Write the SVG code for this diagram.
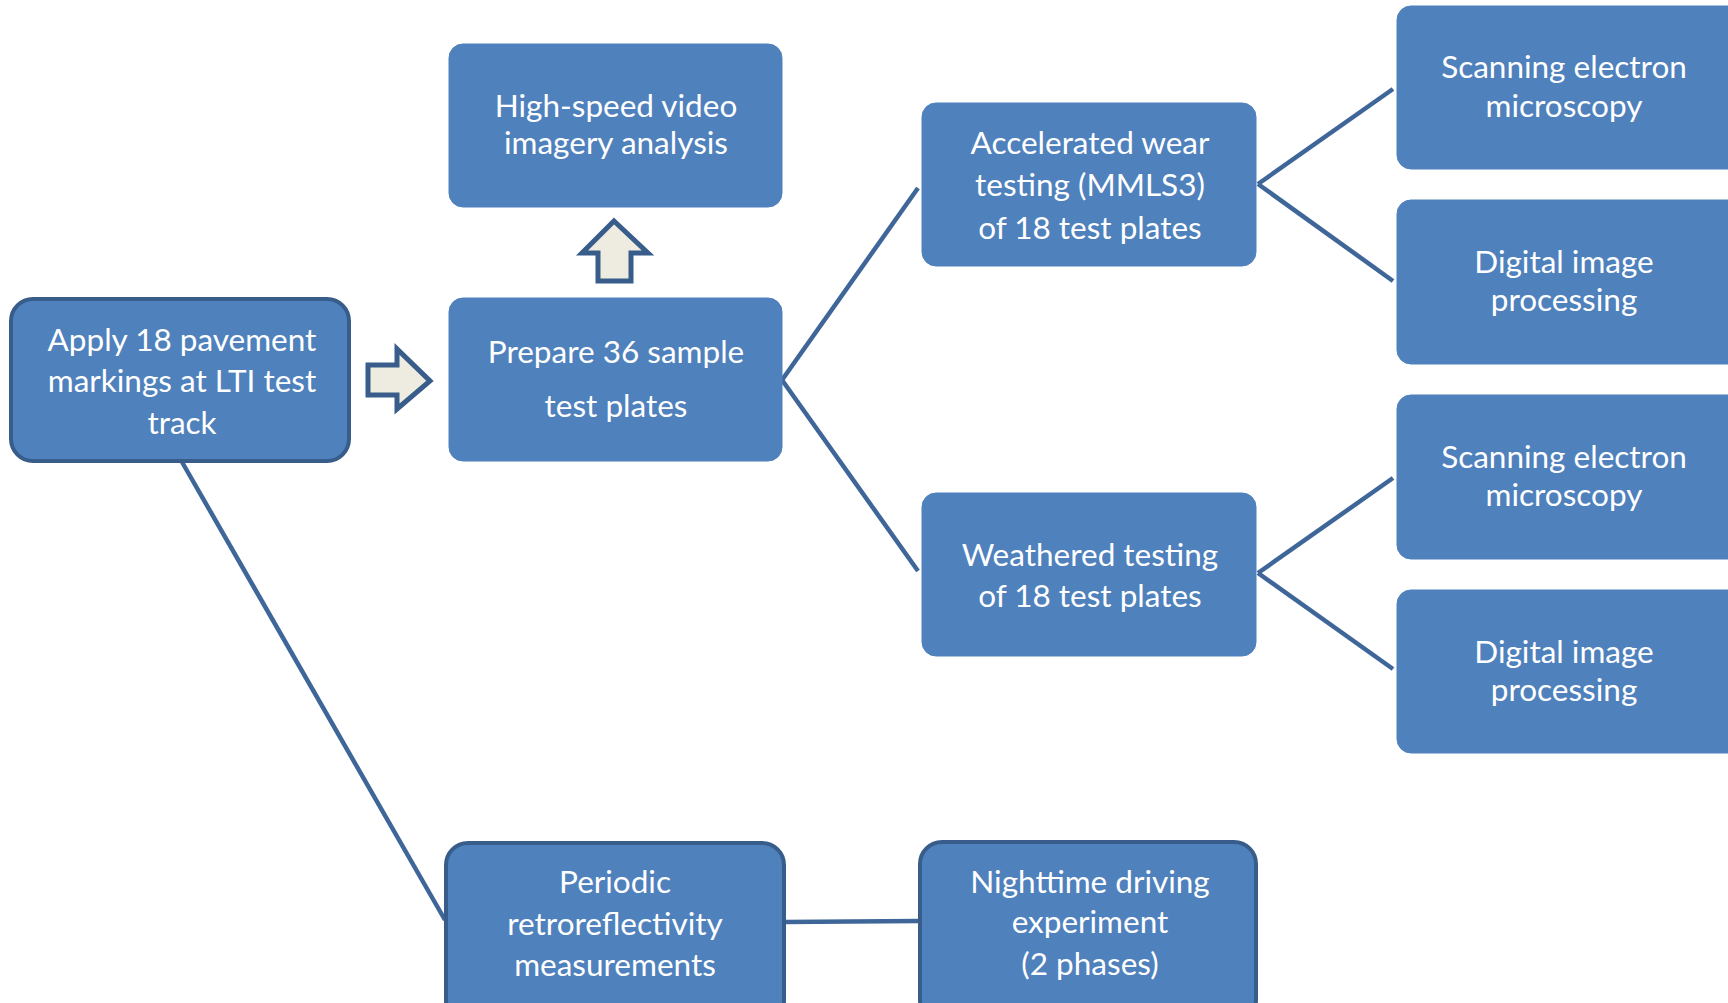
<svg xmlns="http://www.w3.org/2000/svg" width="1728" height="1003" viewBox="0 0 1728 1003">
<style>
.box{fill:#4f81bd;stroke:#4f81bd;stroke-width:1}
.dark{fill:#4f81bd;stroke:#385d8a;stroke-width:4}
.t{font-family:Lato,"Open Sans","Liberation Sans",sans-serif;font-size:31.5px;fill:#ffffff;text-anchor:middle}
.c{stroke:#3f6699;stroke-width:4.5;fill:none}
.arr{fill:#eeece1;stroke:#385d8a;stroke-width:5;stroke-linejoin:miter}
</style>
<rect width="1728" height="1003" fill="#ffffff"/>
<g id="connectors">
<line class="c" x1="782" y1="380" x2="918" y2="188"/>
<line class="c" x1="782" y1="380" x2="918" y2="571"/>
<line class="c" x1="1258" y1="184" x2="1393" y2="89"/>
<line class="c" x1="1258" y1="184" x2="1393" y2="281"/>
<line class="c" x1="1258" y1="573" x2="1393" y2="478"/>
<line class="c" x1="1258" y1="573" x2="1393" y2="669"/>
<line class="c" x1="182" y1="462" x2="445" y2="920"/>
<line class="c" x1="784" y1="922" x2="919" y2="921"/>
<path class="arr" d="M368,365 L397,365 L397,349 L430,381 L397,409 L397,395 L368,395 Z"/>
<path class="arr" d="M614,221 L648,253 L631,253 L631,281 L598,281 L598,253 L582,253 Z"/>
</g>
<g id="apply">
<rect class="dark" x="11" y="299" width="338" height="162" rx="22"/>
<text class="t" x="182" y="351">Apply 18 pavement</text>
<text class="t" x="182" y="392">markings at LTI test</text>
<text class="t" x="182" y="434">track</text>
</g>
<g id="highspeed">
<rect class="box" x="449" y="44" width="333" height="163" rx="14"/>
<text class="t" x="616" y="117">High-speed video</text>
<text class="t" x="616" y="154">imagery analysis</text>
</g>
<g id="prepare">
<rect class="box" x="449" y="298" width="333" height="163" rx="14"/>
<text class="t" x="616" y="363">Prepare 36 sample</text>
<text class="t" x="616" y="417">test plates</text>
</g>
<g id="accelerated">
<rect class="box" x="922" y="103" width="334" height="163" rx="14"/>
<text class="t" x="1090" y="154">Accelerated wear</text>
<text class="t" x="1090" y="196">testing (MMLS3)</text>
<text class="t" x="1090" y="239">of 18 test plates</text>
</g>
<g id="weathered">
<rect class="box" x="922" y="493" width="334" height="163" rx="14"/>
<text class="t" x="1090" y="566">Weathered testing</text>
<text class="t" x="1090" y="607">of 18 test plates</text>
</g>
<g id="sem1">
<rect class="box" x="1397" y="6" width="345" height="163" rx="14"/>
<text class="t" x="1564" y="78">Scanning electron</text>
<text class="t" x="1564" y="117">microscopy</text>
</g>
<g id="dip1">
<rect class="box" x="1397" y="200" width="345" height="164" rx="14"/>
<text class="t" x="1564" y="273">Digital image</text>
<text class="t" x="1564" y="311">processing</text>
</g>
<g id="sem2">
<rect class="box" x="1397" y="395" width="345" height="164" rx="14"/>
<text class="t" x="1564" y="468">Scanning electron</text>
<text class="t" x="1564" y="506">microscopy</text>
</g>
<g id="dip2">
<rect class="box" x="1397" y="590" width="345" height="163" rx="14"/>
<text class="t" x="1564" y="663">Digital image</text>
<text class="t" x="1564" y="701">processing</text>
</g>
<g id="periodic">
<rect class="dark" x="446" y="843" width="338" height="180" rx="22"/>
<text class="t" x="615" y="893">Periodic</text>
<text class="t" x="615" y="935">retroreflectivity</text>
<text class="t" x="615" y="976">measurements</text>
</g>
<g id="nighttime">
<rect class="dark" x="920" y="842" width="336" height="180" rx="22"/>
<text class="t" x="1090" y="893">Nighttime driving</text>
<text class="t" x="1090" y="933">experiment</text>
<text class="t" x="1090" y="975">(2 phases)</text>
</g>
</svg>
